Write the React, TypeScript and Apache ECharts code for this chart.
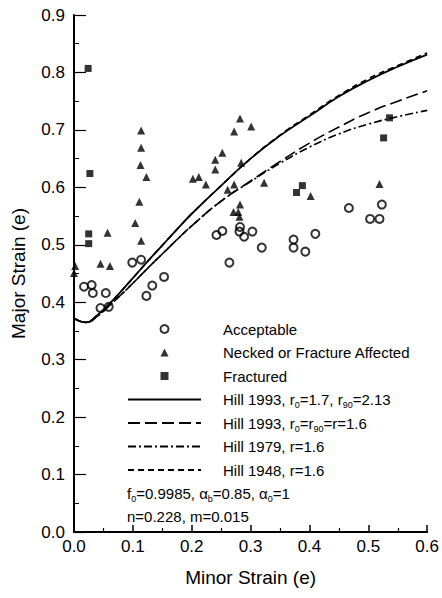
import React, { useEffect, useRef } from "react";
import * as echarts from "echarts";

// Measured limit strains, [minor, major]
const acceptable: [number, number][] = [
  [0.017, 0.427], [0.030, 0.430], [0.032, 0.416], [0.054, 0.416],
  [0.045, 0.390], [0.059, 0.392], [0.099, 0.469], [0.114, 0.474],
  [0.133, 0.429], [0.153, 0.444], [0.123, 0.411],
  [0.242, 0.517], [0.252, 0.524], [0.264, 0.469], [0.282, 0.531],
  [0.281, 0.523], [0.289, 0.514], [0.303, 0.523], [0.319, 0.495],
  [0.373, 0.509], [0.373, 0.495], [0.393, 0.488], [0.410, 0.519],
  [0.467, 0.564], [0.503, 0.545], [0.519, 0.545], [0.523, 0.570],
];

const necked: [number, number][] = [
  [0.002, 0.463], [0.000, 0.451], [0.045, 0.467], [0.061, 0.463],
  [0.057, 0.521], [0.114, 0.699], [0.114, 0.669], [0.113, 0.639],
  [0.123, 0.618], [0.111, 0.575], [0.104, 0.538], [0.114, 0.507],
  [0.202, 0.615], [0.212, 0.618], [0.224, 0.605], [0.240, 0.648],
  [0.240, 0.631], [0.252, 0.660], [0.272, 0.697], [0.282, 0.720],
  [0.301, 0.706], [0.284, 0.643], [0.261, 0.596], [0.272, 0.605],
  [0.323, 0.608], [0.282, 0.570], [0.271, 0.557], [0.279, 0.557],
  [0.281, 0.549], [0.402, 0.585], [0.519, 0.606],
];

const fractured: [number, number][] = [
  [0.024, 0.807], [0.027, 0.624], [0.025, 0.519], [0.025, 0.502],
  [0.378, 0.591], [0.388, 0.603], [0.536, 0.721], [0.526, 0.686],
];

// Predicted forming limit curves
const curveX = [0, 0.02, 0.04, 0.06, 0.08, 0.1, 0.125, 0.15, 0.175, 0.2, 0.25, 0.3, 0.35, 0.4, 0.45, 0.5, 0.55, 0.6];
const hill1993Aniso = [0.372, 0.365, 0.378, 0.397, 0.419, 0.442, 0.471, 0.499, 0.527, 0.554, 0.603, 0.650, 0.690, 0.724, 0.758, 0.786, 0.810, 0.831];
const hill1993Iso = [0.372, 0.365, 0.376, 0.394, 0.413, 0.433, 0.459, 0.484, 0.509, 0.533, 0.576, 0.611, 0.645, 0.677, 0.705, 0.730, 0.750, 0.768];
const hill1979 = [0.372, 0.365, 0.376, 0.394, 0.413, 0.433, 0.459, 0.484, 0.509, 0.533, 0.576, 0.610, 0.642, 0.670, 0.693, 0.710, 0.723, 0.734];
const hill1948 = [0.372, 0.365, 0.378, 0.397, 0.419, 0.442, 0.471, 0.499, 0.527, 0.554, 0.603, 0.650, 0.691, 0.726, 0.760, 0.789, 0.812, 0.834];

const FONT = "'Liberation Sans', Arial, Helvetica, sans-serif";

const seriesNames = {
  acc: "Acceptable",
  neck: "Necked or Fracture Affected",
  frac: "Fractured",
  h93a: "Hill 1993, r0=1.7, r90=2.13",
  h93i: "Hill 1993, r0=r90=r=1.6",
  h79: "Hill 1979, r=1.6",
  h48: "Hill 1948, r=1.6",
};

const legendRich: Record<string, string> = {
  [seriesNames.h93a]: "Hill 1993, r{s|0}=1.7, r{s|90}=2.13",
  [seriesNames.h93i]: "Hill 1993, r{s|0}=r{s|90}=r=1.6",
};

// Square-proportioned legend glyphs (kept at aspect inside the wide icon box)
const triangleIcon = "path://M0,10L5,0L10,10Z";
const squareIcon = "path://M0,0H10V10H0Z";

const subStyle = {
  fontSize: 9,
  fontFamily: FONT,
  color: "#000",
  verticalAlign: "bottom" as const,
  lineHeight: 8,
};

const pair = (ys: number[]) => curveX.map((x, i) => [x, ys[i]]);

export default function App() {
  const ref = useRef<HTMLDivElement>(null);

  useEffect(() => {
    if (!ref.current) return;
    const chart = echarts.init(ref.current, undefined, { renderer: "svg" });

    const lineSeries = (name: string, ys: number[], type: any, width = 1.6) => ({
      name,
      type: "line",
      data: pair(ys),
      smooth: true,
      symbol: "none",
      showSymbol: false,
      lineStyle: { color: "#000", width, type },
      // keeps the legend's centre dot invisible
      itemStyle: { color: "rgba(0,0,0,0)", borderWidth: 0 },
      z: 2,
    });

    chart.setOption({
      animation: false,
      backgroundColor: "#fff",
      grid: { left: 74, right: 11, top: 15, bottom: 66 },
      legend: {
        orient: "vertical",
        left: 127,
        top: 319,
        padding: 0,
        itemWidth: 73,
        itemHeight: 8,
        itemGap: 3.5,
        symbolKeepAspect: true,
        selectedMode: false,
        data: [
          { name: seriesNames.acc, icon: "circle" },
          { name: seriesNames.neck, icon: triangleIcon },
          { name: seriesNames.frac, icon: squareIcon },
          seriesNames.h93a,
          seriesNames.h93i,
          seriesNames.h79,
          seriesNames.h48,
        ],
        formatter: (n: string) => legendRich[n] ?? n,
        textStyle: {
          fontFamily: FONT,
          fontSize: 15,
          color: "#000",
          lineHeight: 20,
          padding: [0, 0, 0, 17],
          rich: { s: subStyle },
        },
      },
      xAxis: {
        type: "value",
        min: 0,
        max: 0.6,
        interval: 0.1,
        name: "Minor Strain (e)",
        nameLocation: "middle",
        nameGap: 36,
        nameTextStyle: { fontFamily: FONT, fontSize: 19, color: "#000" },
        axisLine: { show: true, lineStyle: { color: "#000", width: 2 } },
        axisTick: { show: true, inside: true, length: 7, lineStyle: { color: "#000", width: 1.5 } },
        minorTick: { show: true, splitNumber: 2, length: 4, lineStyle: { color: "#000", width: 1.2 } },
        splitLine: { show: false },
        axisLabel: {
          fontFamily: FONT,
          fontSize: 17,
          color: "#000",
          margin: 6,
          showMaxLabel: true,
          formatter: (v: number) => v.toFixed(1),
        },
      },
      yAxis: {
        type: "value",
        min: 0,
        max: 0.9,
        interval: 0.1,
        name: "Major Strain (e)",
        nameLocation: "middle",
        nameGap: 46,
        nameTextStyle: { fontFamily: FONT, fontSize: 19, color: "#000" },
        axisLine: { show: true, lineStyle: { color: "#000", width: 2 } },
        axisTick: { show: true, inside: true, length: 12, lineStyle: { color: "#000", width: 1.2 } },
        minorTick: { show: true, splitNumber: 2, length: 5, lineStyle: { color: "#000", width: 1 } },
        splitLine: { show: false },
        axisLabel: {
          fontFamily: FONT,
          fontSize: 17,
          color: "#000",
          margin: 9,
          formatter: (v: number) => v.toFixed(1),
        },
      },
      graphic: [
        {
          type: "text",
          left: 127,
          top: 483,
          style: {
            text: "f{s|0}=0.9985, α{s|b}=0.85, α{s|0}=1",
            fontFamily: FONT,
            fontSize: 15,
            lineHeight: 20,
            fill: "#000",
            rich: { s: { ...subStyle, fill: "#000" } },
          },
        },
        {
          type: "text",
          left: 127,
          top: 506,
          style: {
            text: "n=0.228, m=0.015",
            fontFamily: FONT,
            fontSize: 15,
            lineHeight: 20,
            fill: "#000",
          },
        },
      ],
      series: [
        {
          name: seriesNames.acc,
          type: "scatter",
          data: acceptable,
          symbol: "circle",
          symbolSize: 8,
          itemStyle: { color: "rgba(0,0,0,0)", borderColor: "#000", borderWidth: 2 },
          z: 3,
        },
        {
          name: seriesNames.neck,
          type: "scatter",
          data: necked,
          symbol: "triangle",
          symbolSize: 8,
          itemStyle: { color: "#000" },
          z: 3,
        },
        {
          name: seriesNames.frac,
          type: "scatter",
          data: fractured,
          symbol: "rect",
          symbolSize: 7,
          itemStyle: { color: "#000" },
          z: 3,
        },
        lineSeries(seriesNames.h93a, hill1993Aniso, "solid", 1.8),
        lineSeries(seriesNames.h93i, hill1993Iso, [12, 5]),
        lineSeries(seriesNames.h79, hill1979, [8, 3, 2, 3]),
        lineSeries(seriesNames.h48, hill1948, [6, 4]),
      ],
    });

    return () => chart.dispose();
  }, []);

  return (
    <div
      ref={ref}
      style={{ position: "absolute", left: 0, top: 0, width: 442, height: 598, background: "#fff" }}
    />
  );
}
